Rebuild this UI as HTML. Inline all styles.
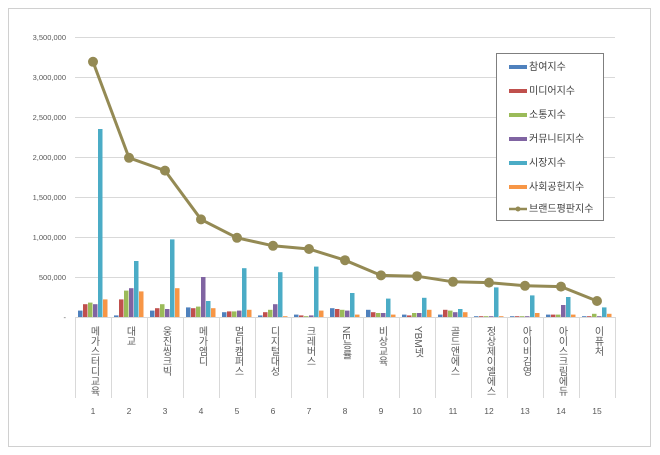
<!DOCTYPE html>
<html><head><meta charset="utf-8">
<style>
html,body{margin:0;padding:0;background:#fff;}
#wrap{position:relative;width:660px;height:455px;overflow:hidden;font-family:"Liberation Sans","Noto Sans CJK KR",sans-serif;}
.frame{position:absolute;left:8px;top:8px;width:643px;height:439px;border:1px solid #d0d0d0;box-sizing:border-box;}
.yl{position:absolute;left:0;width:66px;text-align:right;font-size:7.5px;color:#595959;}
.xl{position:absolute;top:326px;width:14px;writing-mode:vertical-rl;text-orientation:mixed;font-size:10px;line-height:14px;color:#595959;}
.num{position:absolute;top:406px;width:36px;text-align:center;font-size:8.5px;color:#595959;}
.legend{position:absolute;left:496px;top:53px;width:108px;height:168px;border:1px solid #7f7f7f;background:#fff;box-sizing:border-box;}
.li{position:absolute;left:12px;font-size:10px;color:#404040;height:12px;line-height:12px;}
.sw{display:inline-block;width:18px;height:4px;vertical-align:middle;margin-right:2px;}
</style></head><body>
<div id="wrap">
<div class="frame"></div>
<svg id="s" width="660" height="455" style="position:absolute;left:0;top:0">
<g stroke="#d9d9d9" stroke-width="1">
<line x1="75" y1="37.5" x2="615" y2="37.5"/><line x1="75" y1="77.5" x2="615" y2="77.5"/><line x1="75" y1="117.5" x2="615" y2="117.5"/><line x1="75" y1="157.5" x2="615" y2="157.5"/><line x1="75" y1="197.5" x2="615" y2="197.5"/><line x1="75" y1="237.5" x2="615" y2="237.5"/><line x1="75" y1="277.5" x2="615" y2="277.5"/>
<line x1="75" y1="317.5" x2="615" y2="317.5"/>
<line x1="75.5" y1="317" x2="75.5" y2="398"/><line x1="111.5" y1="317" x2="111.5" y2="398"/><line x1="147.5" y1="317" x2="147.5" y2="398"/><line x1="183.5" y1="317" x2="183.5" y2="398"/><line x1="219.5" y1="317" x2="219.5" y2="398"/><line x1="255.5" y1="317" x2="255.5" y2="398"/><line x1="291.5" y1="317" x2="291.5" y2="398"/><line x1="327.5" y1="317" x2="327.5" y2="398"/><line x1="363.5" y1="317" x2="363.5" y2="398"/><line x1="399.5" y1="317" x2="399.5" y2="398"/><line x1="435.5" y1="317" x2="435.5" y2="398"/><line x1="471.5" y1="317" x2="471.5" y2="398"/><line x1="507.5" y1="317" x2="507.5" y2="398"/><line x1="543.5" y1="317" x2="543.5" y2="398"/><line x1="579.5" y1="317" x2="579.5" y2="398"/><line x1="615.5" y1="317" x2="615.5" y2="398"/>
</g>
<g id="bars"></g>
<polyline id="ln" fill="none" stroke="#948a54" stroke-width="3" points=""/>
<g id="mk" fill="#948a54"></g>
</svg>
<div class="yl" style="top:33px">3,500,000</div>
<div class="yl" style="top:73px">3,000,000</div>
<div class="yl" style="top:113px">2,500,000</div>
<div class="yl" style="top:153px">2,000,000</div>
<div class="yl" style="top:193px">1,500,000</div>
<div class="yl" style="top:233px">1,000,000</div>
<div class="yl" style="top:273px">500,000</div>
<div class="yl" style="top:313px">-</div>

<div class="xl" style="left:86px">메가스터디교육</div>
<div class="xl" style="left:122px">대교</div>
<div class="xl" style="left:158px">웅진씽크빅</div>
<div class="xl" style="left:194px">메가엠디</div>
<div class="xl" style="left:230px">멀티캠퍼스</div>
<div class="xl" style="left:266px">디지털대성</div>
<div class="xl" style="left:302px">크레버스</div>
<div class="xl" style="left:338px">NE능률</div>
<div class="xl" style="left:374px">비상교육</div>
<div class="xl" style="left:410px">YBM넷</div>
<div class="xl" style="left:446px">골드앤에스</div>
<div class="xl" style="left:482px">정상제이엘에스</div>
<div class="xl" style="left:518px">아이비김영</div>
<div class="xl" style="left:554px">아이스크림에듀</div>
<div class="xl" style="left:590px">이퓨처</div>

<div class="num" style="left:75px">1</div><div class="num" style="left:111px">2</div><div class="num" style="left:147px">3</div><div class="num" style="left:183px">4</div><div class="num" style="left:219px">5</div><div class="num" style="left:255px">6</div><div class="num" style="left:291px">7</div><div class="num" style="left:327px">8</div><div class="num" style="left:363px">9</div><div class="num" style="left:399px">10</div><div class="num" style="left:435px">11</div><div class="num" style="left:471px">12</div><div class="num" style="left:507px">13</div><div class="num" style="left:543px">14</div><div class="num" style="left:579px">15</div>

<div class="legend">
<div class="li" style="top:8px"><span class="sw" style="background:#4f81bd"></span>참여지수</div>
<div class="li" style="top:32px"><span class="sw" style="background:#c0504d"></span>미디어지수</div>
<div class="li" style="top:56px"><span class="sw" style="background:#9bbb59"></span>소통지수</div>
<div class="li" style="top:80px"><span class="sw" style="background:#8064a2"></span>커뮤니티지수</div>
<div class="li" style="top:104px"><span class="sw" style="background:#4bacc6"></span>시장지수</div>
<div class="li" style="top:128px"><span class="sw" style="background:#f79646"></span>사회공헌지수</div>
<div class="li" style="top:150px"><svg width="18" height="8" style="vertical-align:middle;margin-right:2px"><line x1="0" y1="4" x2="18" y2="4" stroke="#948a54" stroke-width="2.5"/><circle cx="9" cy="4" r="2.5" fill="#948a54"/></svg>브랜드평판지수</div>
</div>
</div>
<script>
var d=[[80,160,180,160,2350,220,3190],[20,220,330,360,700,320,1990],[80,110,160,100,970,360,1830],[120,110,130,500,200,110,1220],[60,70,70,80,610,90,990],[20,60,90,160,560,10,890],[30,20,10,20,630,80,850],[110,100,90,80,300,30,710],[90,60,50,50,230,30,520],[30,20,50,50,240,90,510],[30,90,80,60,100,60,440],[10,10,10,10,370,10,430],[10,10,10,10,270,50,390],[30,30,30,150,250,30,380],[10,10,40,10,120,40,200]];
var col=["#4f81bd","#c0504d","#9bbb59","#8064a2","#4bacc6","#f79646"];
var b="",pts=[],m="";
d.forEach(function(r,i){var c=93+36*i;for(var k=0;k<6;k++){var h=r[k]*0.08;b+='<rect x="'+(c-15+5*k)+'" y="'+(317-h)+'" width="4.5" height="'+h+'" fill="'+col[k]+'"/>';}
var y=317-r[6]*0.08;pts.push(c+","+y);m+='<circle cx="'+c+'" cy="'+y+'" r="5"/>';});
document.getElementById("bars").innerHTML=b;
document.getElementById("ln").setAttribute("points",pts.join(" "));
document.getElementById("mk").innerHTML=m;
</script>
</body></html>
